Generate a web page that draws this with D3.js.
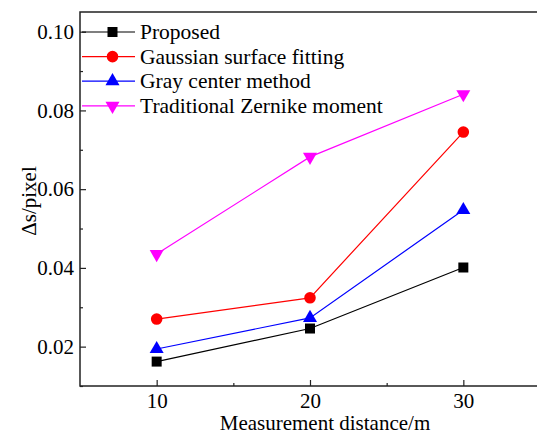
<!DOCTYPE html>
<html>
<head>
<meta charset="utf-8">
<script src="https://cdn.jsdelivr.net/npm/d3@7"></script>
<style>
  body { margin: 0; background: #fff; }
  text { font-family: "Liberation Serif", "Times New Roman", serif; fill: #000; }
</style>
</head>
<body>
<div id="chart"></div>
<script>
// data
const distances = [10, 20, 30];
const seriesNames = ['Proposed', 'Gaussian surface fitting', 'Gray center method', 'Traditional Zernike moment'];
const proposed = [0.0162, 0.0246, 0.0401];
const gaussian = [0.0270, 0.0324, 0.0745];
const grayCenter = [0.0194, 0.0273, 0.0547];
const zernike = [0.0435, 0.0682, 0.0841];
const yTicks = [0.02, 0.04, 0.06, 0.08, 0.10];
const yMinor = [0.01, 0.03, 0.05, 0.07, 0.09];
const xTicks = [10, 20, 30];
const xMinor = [15, 25];

const colors = ['#000000', '#ff0000', '#0000ff', '#ff00ff'];
const shapes = ['square', 'circle', 'triangle', 'triangleDown'];
const allValues = [proposed, gaussian, grayCenter, zernike];

const width = 537, height = 434;
const margin = {top: 12, left: 80, bottom: 48};
const plotRight = 540;
const fontStack = '"Liberation Serif", "Times New Roman", serif';

const svg = d3.select('#chart')
  .append('svg')
    .attr('width', width)
    .attr('height', height);

const xScale = d3.scaleLinear().domain([5, 35]).range([margin.left, plotRight]);
const yScale = d3.scaleLinear().domain([0.01, 0.105]).range([height - margin.bottom, margin.top]);

// frame
svg.append('rect')
  .attr('x', margin.left)
  .attr('y', margin.top)
  .attr('width', plotRight - margin.left)
  .attr('height', yScale(0.01) - margin.top)
  .attr('fill', 'none')
  .attr('stroke', '#222')
  .attr('stroke-width', 1.5);

// axes, ticks pointing inward
const xAxis = svg.append('g')
  .attr('transform', `translate(0, ${yScale(0.01)})`)
  .call(d3.axisBottom(xScale).tickValues(xTicks).tickSize(-6).tickPadding(7).tickFormat(d3.format('d')));
xAxis.append('g')
  .call(d3.axisBottom(xScale).tickValues(xMinor).tickSize(-3).tickFormat(''));

const yAxis = svg.append('g')
  .attr('transform', `translate(${margin.left}, 0)`)
  .call(d3.axisLeft(yScale).tickValues(yTicks).tickSize(-6).tickPadding(6).tickFormat(d3.format('.2f')));
yAxis.append('g')
  .call(d3.axisLeft(yScale).tickValues(yMinor).tickSize(-3).tickFormat(''));

[xAxis, yAxis].forEach(ax => ax.attr('font-family', fontStack).attr('font-size', 21));
svg.selectAll('.domain').remove();
svg.selectAll('.tick line').attr('stroke', '#222').attr('stroke-width', 1.2);
svg.selectAll('.tick text')
  .attr('font-family', fontStack)
  .attr('font-size', 21)
  .attr('fill', '#000');

// axis titles
svg.append('text')
  .attr('x', 325)
  .attr('y', 430)
  .attr('text-anchor', 'middle')
  .style('font-size', '21px')
  .text('Measurement distance/m');
svg.append('text')
  .attr('transform', `translate(36, 201) rotate(-90)`)
  .attr('text-anchor', 'middle')
  .style('font-size', '21px')
  .text('Δs/pixel');

// symbols
const symbolFor = (shape) => {
  if (shape === 'square') return d3.symbol().type(d3.symbolSquare).size(100)();
  if (shape === 'circle') return d3.symbol().type(d3.symbolCircle).size(105)();
  return d3.symbol().type(d3.symbolTriangle).size(85)();
};
const rotFor = (shape) => shape === 'triangleDown' ? ' rotate(180)' : '';

const line = d3.line()
  .x((d, i) => xScale(distances[i]))
  .y(d => yScale(d));

allValues.forEach((vals, s) => {
  svg.append('path')
    .datum(vals)
    .attr('d', line)
    .attr('fill', 'none')
    .attr('stroke', colors[s])
    .attr('stroke-width', 1.2);
  svg.append('g')
    .selectAll('path')
    .data(vals)
    .join('path')
      .attr('d', symbolFor(shapes[s]))
      .attr('transform', (d, i) => `translate(${xScale(distances[i])}, ${yScale(d)})${rotFor(shapes[s])}`)
      .attr('fill', colors[s]);
});

// legend
const legend = svg.append('g').attr('class', 'legend');
seriesNames.forEach((name, s) => {
  const y = 32 + s * 24.6;
  legend.append('line')
    .attr('x1', 82).attr('x2', 135)
    .attr('y1', y).attr('y2', y)
    .attr('stroke', colors[s])
    .attr('stroke-width', 1.2);
  legend.append('path')
    .attr('d', symbolFor(shapes[s]))
    .attr('transform', `translate(112.5, ${y})${rotFor(shapes[s])}`)
    .attr('fill', colors[s]);
  legend.append('text')
    .attr('x', 140)
    .attr('y', y + 7)
    .style('font-size', '21.5px')
    .text(name);
});
</script>
</body>
</html>
